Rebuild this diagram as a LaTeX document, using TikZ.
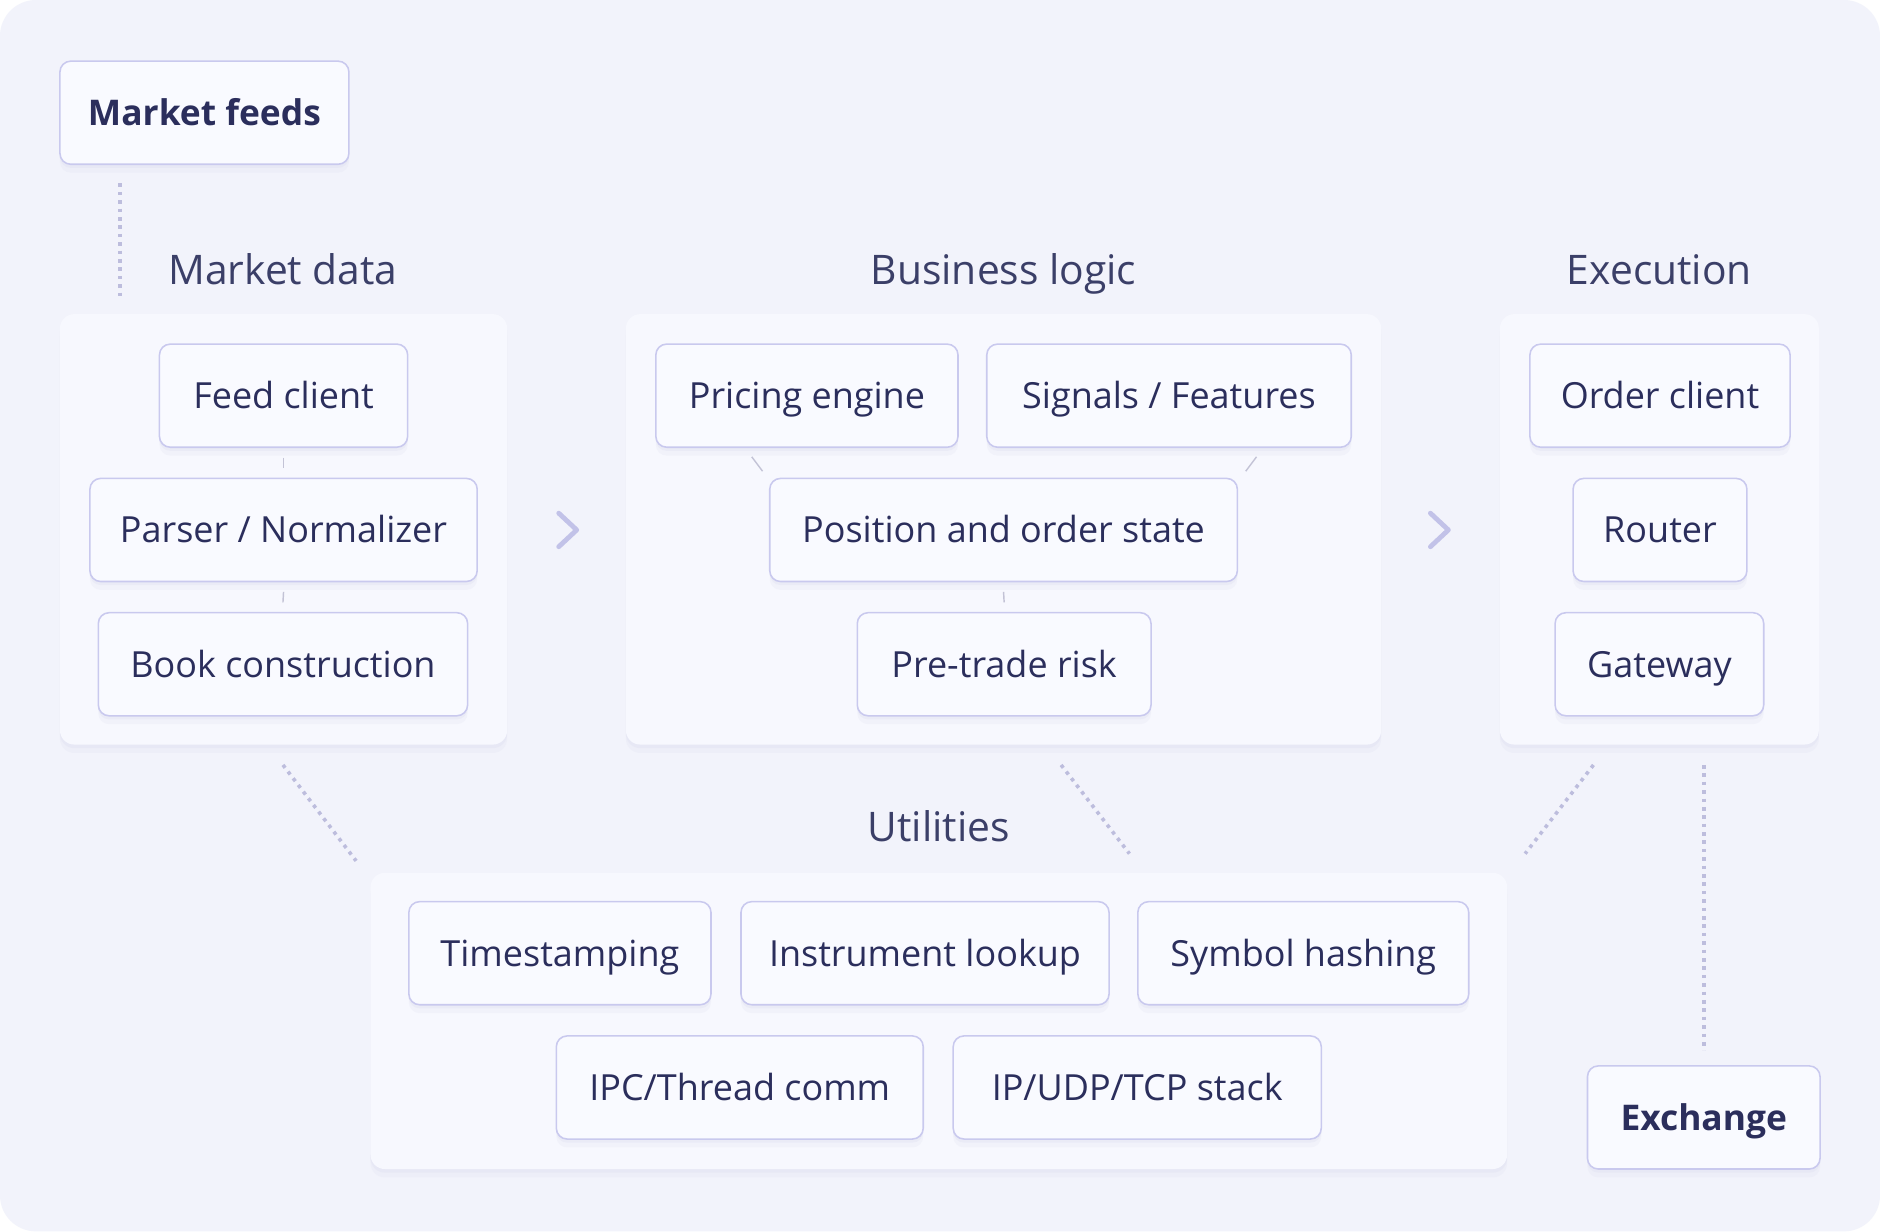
\documentclass[tikz,border=0pt]{standalone}
\usepackage{fontspec}
\setmainfont{Open Sans}
\definecolor{bgc}{HTML}{F2F3FB}
\definecolor{panelc}{HTML}{F7F8FE}
\definecolor{nodec}{HTML}{F9FAFF}
\definecolor{borderc}{HTML}{C9C9EE}
\definecolor{textc}{HTML}{2B2E5C}
\definecolor{titlec}{HTML}{3B3F68}
\definecolor{dotc}{HTML}{BDBDDD}
\definecolor{linkc}{HTML}{C3C3D6}
\definecolor{chevc}{HTML}{C2C2E8}
\definecolor{shadc}{HTML}{D8D9EC}
\tikzset{
  x=1pt, y=-1pt,
  softshadow/.style={
    preaction={fill=shadc, fill opacity=0.25, draw=none, transform canvas={yshift=-3pt}},
    preaction={fill=shadc, fill opacity=0.18, draw=none, transform canvas={yshift=-7pt}}},
  panel/.style={fill=panelc, draw=none, rounded corners=12pt, softshadow},
  box/.style={draw=borderc, line width=1.3pt, fill=nodec, rounded corners=9pt,
    text=textc, font=\fontsize{30}{34}\selectfont, inner sep=0pt,
    text height=21.4pt, text depth=0pt, minimum height=86pt, softshadow},
  boldbox/.style={box, font=\fontsize{29.5}{34}\selectfont\bfseries, text height=21pt},
  grouptitle/.style={text=titlec, font=\fontsize{34}{40}\selectfont, inner sep=0pt,
    text height=24.3pt, text depth=0pt},
  dotline/.style={draw=dotc, line width=3pt, dash pattern=on 3pt off 4pt},
  link/.style={draw=linkc, line width=1.2pt},
  chev/.style={draw=chevc, line width=4pt, line cap=round, line join=round},
}
\begin{document}
\begin{tikzpicture}
\fill[white] (0,0) rectangle (1568,1027);
\useasboundingbox (0,0) rectangle (1568,1027);
\fill[bgc, rounded corners=30pt] (0,0) rectangle (1568,1027);

% panels
\path[panel] (50,262) rectangle (423,621);
\path[panel] (522,262) rectangle (1152,621);
\path[panel] (1251,262) rectangle (1517,621);
\path[panel] (309,728) rectangle (1257,975);

% titles
\node[grouptitle] (tmd) at (236,225) {Market data};
\node[grouptitle] (tbl) at (837,225) {Business logic};
\node[grouptitle] (tex) at (1384,225) {Execution};
\node[grouptitle] (tut) at (783,690) {Utilities};

% external nodes
\node[boldbox, minimum width=241pt] (mf) at (170.5,94) {Market feeds};
\node[boldbox, minimum width=194pt] (exch) at (1421,932) {Exchange};

% market data
\node[box, minimum width=207pt] (feed) at (236.5,330) {Feed client};
\node[box, minimum width=323pt] (parser) at (236.5,442) {Parser / Normalizer};
\node[box, minimum width=308pt] (book) at (236,554) {Book construction};

% business logic
\node[box, minimum width=252pt] (pricing) at (673,330) {Pricing engine};
\node[box, minimum width=304pt] (signals) at (975,330) {Signals / Features};
\node[box, minimum width=390pt] (pos) at (837,442) {Position and order state};
\node[box, minimum width=245pt] (risk) at (837.5,554) {Pre-trade risk};

% execution
\node[box, minimum width=217pt] (order) at (1384.5,330) {Order client};
\node[box, minimum width=145pt] (router) at (1384.5,442) {Router};
\node[box, minimum width=174pt] (gw) at (1384,554) {Gateway};

% utilities
\node[box, minimum width=252pt] (ts) at (467,795) {Timestamping};
\node[box, minimum width=307pt] (inst) at (771.5,795) {Instrument lookup};
\node[box, minimum width=276pt] (sym) at (1087,795) {Symbol hashing};
\node[box, minimum width=306pt] (ipc) at (617,907) {IPC/Thread comm};
\node[box, minimum width=307pt] (ip) at (948.5,907) {IP/UDP/TCP stack};

% short links inside panels
\draw[link] ([yshift=-8pt]feed.south) -- ([yshift=8pt]parser.north);
\draw[link] ([yshift=-8pt]parser.south) -- ([yshift=8pt]book.north);
\draw[link] ([yshift=-8pt]pos.south) -- ([yshift=8pt]risk.north);
\coordinate (pa) at (627,381); \coordinate (pb) at (636,393);
\coordinate (sa) at (1048,381); \coordinate (sb) at (1039,393);
\draw[link] (pa) -- (pb);
\draw[link] (sa) -- (sb);

% chevrons
\coordinate (c1) at (474,442);
\coordinate (c2) at (1201,442);
\draw[chev] ([shift={(-8,-14)}]c1) -- ([shift={(7,0)}]c1) -- ([shift={(-8,14)}]c1);
\draw[chev] ([shift={(-8,-14)}]c2) -- ([shift={(7,0)}]c2) -- ([shift={(-8,14)}]c2);

% dotted connectors
\coordinate (d1a) at (100,153); \coordinate (d1b) at (100,247);
\coordinate (d2a) at (236,638); \coordinate (d2b) at (297,718);
\coordinate (d3a) at (885,638); \coordinate (d3b) at (942,712);
\coordinate (d4a) at (1329,638); \coordinate (d4b) at (1272,712);
\coordinate (d5a) at (1421,638); \coordinate (d5b) at (1421,876);
\draw[dotline] (d1a) -- (d1b);
\draw[dotline] (d2a) -- (d2b);
\draw[dotline] (d3a) -- (d3b);
\draw[dotline] (d4a) -- (d4b);
\draw[dotline] (d5a) -- (d5b);
\end{tikzpicture}
\end{document}
